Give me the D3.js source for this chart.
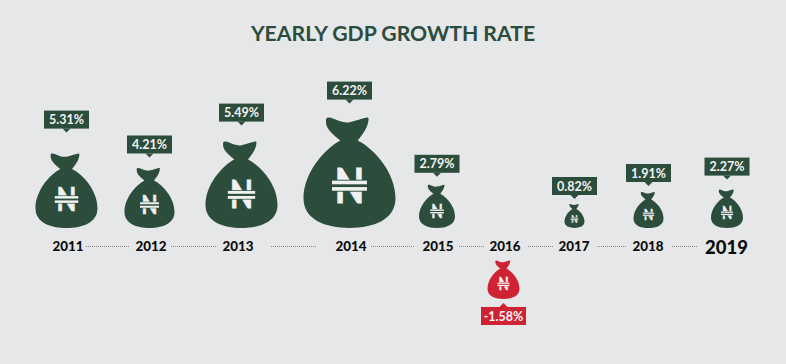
<!DOCTYPE html>
<html>
<head>
<meta charset="utf-8">
<script src="https://cdn.jsdelivr.net/npm/d3@7"></script>
<style>
  html, body { margin: 0; padding: 0; background: #e5e7e9; }
  svg { display: block; }
  text { font-family: Lato, sans-serif; }
</style>
</head>
<body>
<script>
//chart data
var chartTitle = "YEARLY GDP GROWTH RATE";
var years = [2011, 2012, 2013, 2014, 2015, 2016, 2017, 2018, 2019];
var growth = [5.31, 4.21, 5.49, 6.22, 2.79, -1.58, 0.82, 1.91, 2.27];
var currencyLetter = "N";

var width = 786, height = 364;
var green = "#2c4c3c", red = "#cf2233", paper = "#e5e7e9";

const svg = d3.select("body")
    .append("svg")
    .attr("width", width)
    .attr("height", height);

//bags are not evenly spaced in the original so x is piecewise by year
var x = d3.scaleLinear().domain(years)
    .range([66.5, 149.5, 241.5, 349.5, 437, 503.5, 574.5, 648.5, 727]);
var xYear = d3.scaleLinear().domain(years)
    .range([68, 151, 238, 351, 438, 505, 574, 648, 726.5]);

//bag width and tag gap follow the growth size
var sorted = growth.map(Math.abs).sort(d3.ascending);
var bagWidth = d3.scaleLinear().domain(sorted)
    .range([20, 32, 30, 32, 36, 50, 62, 72, 92]);
var tagGap = d3.scaleLinear().domain(sorted)
    .range([9, 8, 10, 14, 12, 14.5, 25, 20, 18]);

var baseUp = 228, baseDown = 299, tagW = 45, tagH = 18;
var bagRatio = 1.2;

//bag outline, 100 units wide, base at y=0
var bagPath = "M-10,-95 C-18,-102 -27,-108 -25.5,-118 C-25,-121 -21,-120 -18,-119 " +
    "C-11,-116 -6,-114 0,-115 C7,-116 13,-119 19,-120 C21,-120 21,-119 20.5,-116 " +
    "C19,-107 14,-102 9,-95 C27,-86 50,-60 50,-32 C50,-9 26,0 0,0 " +
    "C-26,0 -50,-9 -50,-32 C-50,-60 -27,-86 -10,-95 Z";

//title
svg.append("text")
    .attr("x", 393)
    .attr("y", 41)
    .attr("text-anchor", "middle")
    .attr("font-size", 21.2)
    .attr("font-weight", 700)
    .attr("fill", green)
    .text(chartTitle);

//dotted links between the years
var padLeft = [3, 5, 18, 5, 6, 8, 8, 9];
var padRight = [7, 7, 20, 9, 5, 6, 7, 8];
svg.append("g")
    .attr("class", "links")
    .selectAll("line")
    .data(years.slice(1))
    .join("line")
    .attr("x1", (d, i) => xYear(years[i]) + 15 + padLeft[i])
    .attr("x2", (d, i) => xYear(d) - (d == 2019 ? 21.5 : 15) - padRight[i])
    .attr("y1", 246.5)
    .attr("y2", 246.5)
    .attr("stroke", "#8a8c8c")
    .attr("stroke-width", 1)
    .attr("stroke-dasharray", "1,1");

//year labels, last one is bigger
svg.append("g")
    .attr("class", "years")
    .selectAll("text")
    .data(years)
    .join("text")
    .attr("x", d => xYear(d))
    .attr("y", d => d == 2019 ? 253.5 : 251)
    .attr("text-anchor", "middle")
    .attr("font-size", d => d == 2019 ? 18.5 : 13.4)
    .attr("font-weight", 900)
    .attr("fill", "#0c0c0c")
    .text(d => d);

var rows = years.map((y, i) => ({year: y, value: growth[i]}));

var bags = svg.append("g")
    .attr("class", "bags")
    .selectAll("g")
    .data(rows)
    .join("g")
    .attr("transform", d => `translate(${x(d.year)},${d.value < 0 ? baseDown : baseUp})`);

bags.append("path")
    .attr("d", bagPath)
    .attr("transform", d => `scale(${bagWidth(Math.abs(d.value)) / 100})`)
    .attr("fill", d => d.value < 0 ? red : green);

//naira sign: slab N squeezed in x, then the double bar cut across it.
//drawn in a 100 unit wide bag space so it scales with the bag
var naira = bags.append("g")
    .attr("transform", d => `scale(${bagWidth(Math.abs(d.value)) / 100})`);

naira.append("text")
    .attr("transform", "translate(0,-27.5) scale(0.8,1)")
    .attr("text-anchor", "middle")
    .attr("font-family", "'DejaVu Serif', serif")
    .attr("font-weight", 700)
    .attr("font-size", 52)
    .attr("fill", "#f0f1f1")
    .attr("stroke", "#f0f1f1")
    .attr("stroke-width", 1.2)
    .text(currencyLetter);

naira.append("rect")
    .attr("x", -20).attr("y", -52.5)
    .attr("width", 40).attr("height", 13)
    .attr("fill", d => d.value < 0 ? red : green);

naira.selectAll("rect.bar")
    .data([-51.5, -44.5])
    .join("rect")
    .attr("class", "bar")
    .attr("x", -19)
    .attr("y", d => d)
    .attr("width", 38)
    .attr("height", 4)
    .attr("fill", "#f0f1f1");

//value tags with their little pointer
var tags = bags.append("g")
    .attr("transform", d => {
        var w = bagWidth(Math.abs(d.value));
        var gap = tagGap(Math.abs(d.value));
        return d.value < 0 ? `translate(0,${gap})`
            : `translate(0,${-w * bagRatio - gap - tagH})`;
    });

tags.append("rect")
    .attr("x", -tagW / 2)
    .attr("width", tagW)
    .attr("height", tagH)
    .attr("fill", d => d.value < 0 ? red : green);

tags.append("path")
    .attr("d", d => d.value < 0
        ? d3.line()([[-4, 0], [0, -4], [4, 0]])
        : d3.line()([[-4, tagH], [0, tagH + 4], [4, tagH]]))
    .attr("fill", d => d.value < 0 ? red : green);

tags.append("text")
    .attr("y", 13.5)
    .attr("text-anchor", "middle")
    .attr("font-size", 12.5)
    .attr("font-weight", 700)
    .attr("fill", "#f2f3f3")
    .text(d => d.value.toFixed(2) + "%");
</script>
</body>
</html>
